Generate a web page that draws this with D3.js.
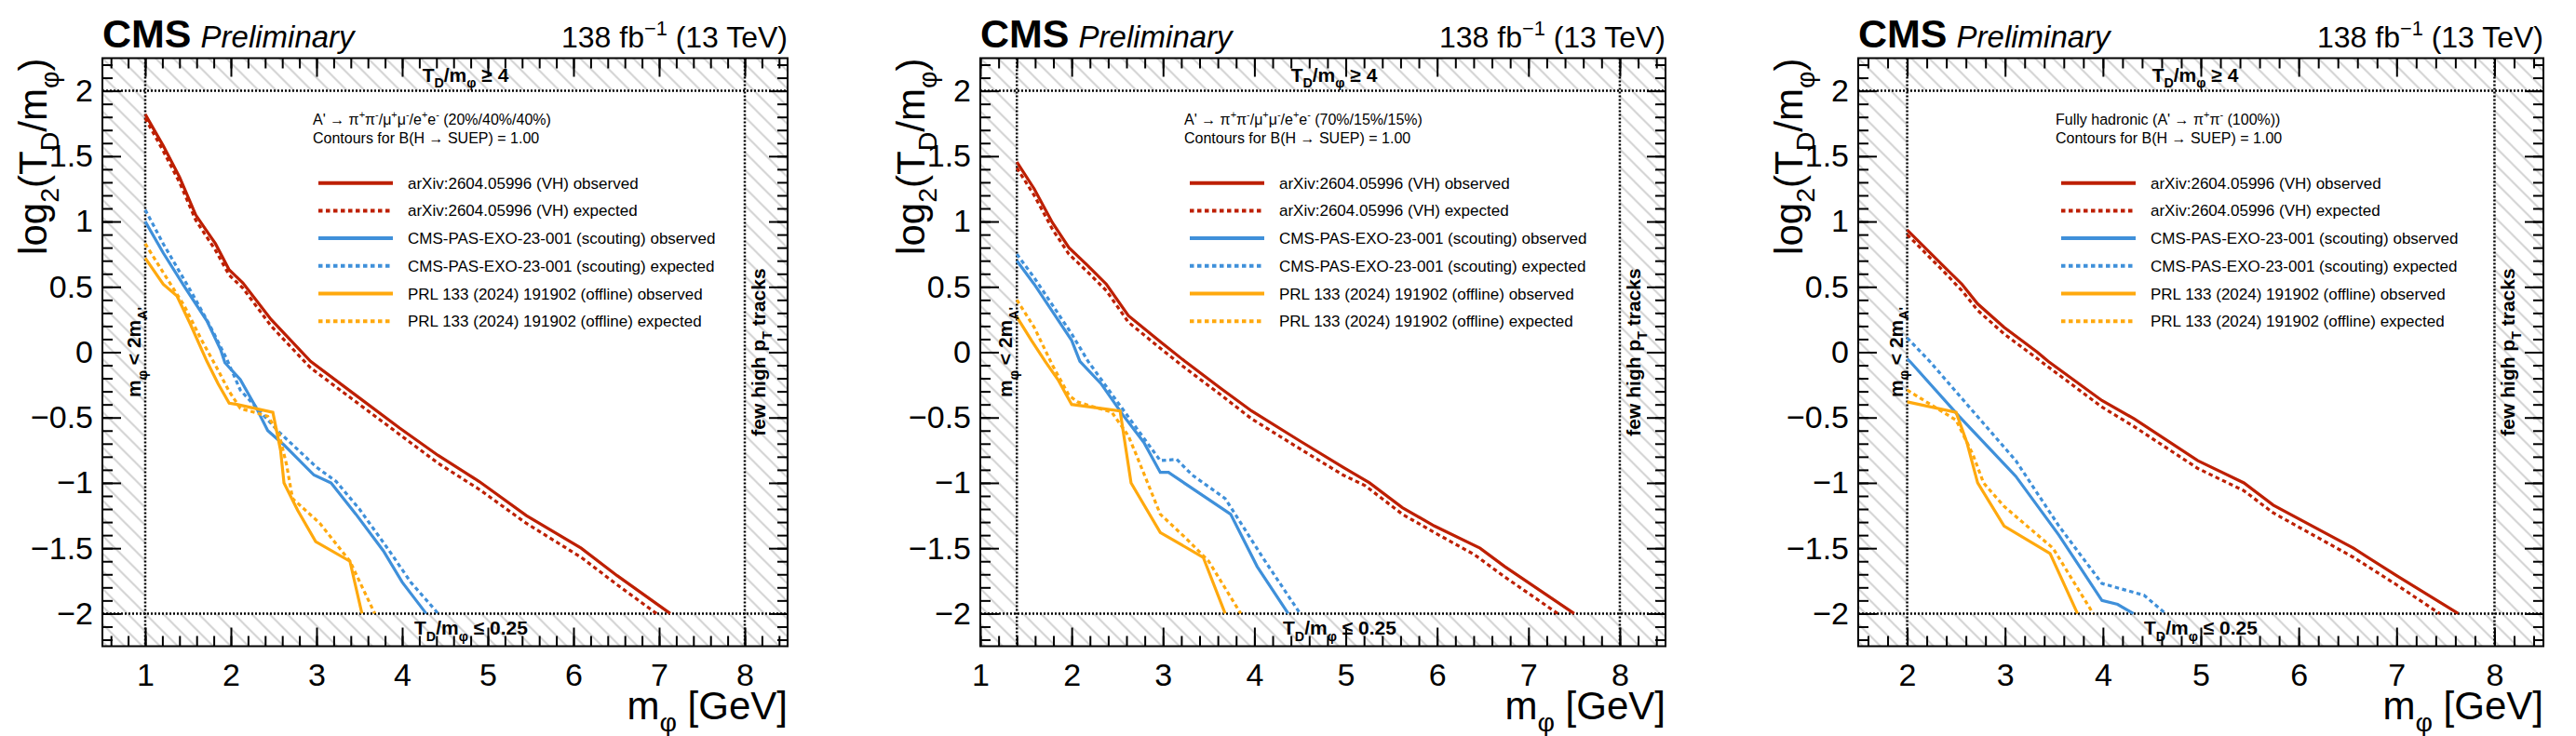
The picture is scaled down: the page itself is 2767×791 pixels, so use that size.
<!DOCTYPE html>
<html>
<head>
<meta charset="utf-8">
<script src="https://cdn.jsdelivr.net/npm/d3@7"></script>
<style>
  body { margin: 0; background: #fff; }
  svg { display: block; }
  text { font-family: "Liberation Sans", Arial, Helvetica, sans-serif; fill: #000; }
</style>
</head>
<body>
<div id="chart"></div>
<script>
// ---- data ----

// x ranges and the m_phi < 2 m_A' cut for each panel
var xDomains = [[0.5, 8.5], [1, 8.5], [1.5, 8.5]];
var xCut = [1, 1.4, 2];
var xHigh = 8;
var yCut = [-2, 2];

// tick values / labels
var xTicks = [[1, 2, 3, 4, 5, 6, 7, 8], [1, 2, 3, 4, 5, 6, 7, 8], [2, 3, 4, 5, 6, 7, 8]];
var yTicks = [-2, -1.5, -1, -0.5, 0, 0.5, 1, 1.5, 2];

var legendLabels = [
  "arXiv:2604.05996 (VH) observed",
  "arXiv:2604.05996 (VH) expected",
  "CMS-PAS-EXO-23-001 (scouting) observed",
  "CMS-PAS-EXO-23-001 (scouting) expected",
  "PRL 133 (2024) 191902 (offline) observed",
  "PRL 133 (2024) 191902 (offline) expected"
];
var seriesColors = ["#bd1f01", "#bd1f01", "#3f90da", "#3f90da", "#ffa90e", "#ffa90e"];
var seriesDashed = [false, true, false, true, false, true];

// panel 1 : A' -> pi pi / mu mu / e e (20/40/40)
var mixVhObs = [[1.0,1.82],[1.21,1.58],[1.40,1.34],[1.59,1.05],[1.82,0.83],[1.98,0.63],[2.14,0.53],[2.47,0.25],[2.93,-0.07],[3.46,-0.33],[3.97,-0.58],[4.42,-0.79],[4.90,-0.99],[5.45,-1.25],[6.09,-1.50],[6.51,-1.71],[7.13,-2.0]];
var mixVhExp = [[1.0,1.79],[1.21,1.54],[1.40,1.30],[1.59,1.01],[1.82,0.78],[1.98,0.59],[2.14,0.49],[2.47,0.20],[2.93,-0.12],[3.46,-0.38],[3.97,-0.63],[4.42,-0.85],[4.90,-1.05],[5.45,-1.31],[6.09,-1.57],[6.51,-1.78],[6.97,-2.0]];
var mixScoutObs = [[1.0,1.0],[1.21,0.76],[1.46,0.50],[1.72,0.24],[1.88,0.02],[1.93,-0.08],[2.11,-0.21],[2.30,-0.43],[2.43,-0.60],[2.62,-0.71],[2.97,-0.94],[3.17,-1.0],[3.46,-1.24],[3.78,-1.52],[4.0,-1.76],[4.28,-2.0]];
var mixScoutExp = [[1.0,1.09],[1.21,0.83],[1.53,0.47],[1.75,0.21],[1.95,-0.05],[2.11,-0.29],[2.56,-0.61],[3.0,-0.88],[3.23,-0.99],[3.5,-1.20],[3.85,-1.52],[4.1,-1.76],[4.42,-2.0]];
var mixOffObs = [[1.0,0.72],[1.21,0.52],[1.37,0.43],[1.53,0.21],[1.72,-0.07],[1.85,-0.24],[1.98,-0.39],[2.07,-0.40],[2.49,-0.46],[2.58,-0.75],[2.62,-1.0],[2.78,-1.21],[2.99,-1.45],[3.39,-1.60],[3.53,-2.0]];
var mixOffExp = [[1.0,0.83],[1.21,0.61],[1.46,0.35],[1.66,0.09],[1.82,-0.10],[1.98,-0.30],[2.11,-0.43],[2.43,-0.49],[2.56,-0.62],[2.65,-0.86],[2.72,-1.12],[3.04,-1.31],[3.39,-1.60],[3.68,-2.0]];

// panel 2 : A' -> pi pi / mu mu / e e (70/15/15)
var pionVhObs = [[1.40,1.455],[1.59,1.25],[1.79,0.99],[1.97,0.80],[2.18,0.66],[2.38,0.52],[2.62,0.28],[2.97,0.08],[3.24,-0.07],[3.62,-0.27],[3.97,-0.45],[4.50,-0.68],[4.97,-0.88],[5.26,-1.0],[5.62,-1.19],[5.97,-1.33],[6.47,-1.50],[6.74,-1.64],[7.50,-2.0]];
var pionVhExp = [[1.40,1.41],[1.59,1.20],[1.79,0.94],[1.97,0.75],[2.18,0.61],[2.38,0.47],[2.62,0.23],[2.97,0.03],[3.24,-0.12],[3.62,-0.32],[3.97,-0.51],[4.50,-0.74],[4.97,-0.94],[5.21,-1.02],[5.62,-1.24],[5.97,-1.38],[6.41,-1.55],[6.74,-1.72],[7.32,-2.0]];
var pionScoutObs = [[1.40,0.70],[1.59,0.52],[1.79,0.31],[2.0,0.09],[2.09,-0.07],[2.32,-0.24],[2.56,-0.48],[2.79,-0.69],[2.97,-0.92],[3.06,-0.92],[3.74,-1.24],[4.03,-1.64],[4.37,-2.0]];
var pionScoutExp = [[1.40,0.75],[1.59,0.57],[1.79,0.36],[2.0,0.14],[2.18,-0.07],[2.5,-0.38],[2.97,-0.83],[3.15,-0.82],[3.32,-0.94],[3.68,-1.12],[3.79,-1.24],[4.09,-1.57],[4.5,-2.0]];
var pionOffObs = [[1.40,0.27],[1.56,0.09],[1.71,-0.07],[1.85,-0.21],[2.0,-0.40],[2.53,-0.45],[2.65,-1.0],[2.97,-1.38],[3.44,-1.57],[3.68,-2.0]];
var pionOffExp = [[1.40,0.40],[1.59,0.19],[1.79,-0.10],[1.97,-0.33],[2.06,-0.38],[2.44,-0.46],[2.62,-0.64],[2.71,-0.79],[2.97,-1.24],[3.26,-1.43],[3.50,-1.60],[3.85,-2.0]];

// panel 3 : fully hadronic
var hadVhObs = [[2.0,0.935],[2.37,0.66],[2.56,0.52],[2.72,0.37],[2.99,0.19],[3.33,0.0],[3.44,-0.07],[3.99,-0.37],[4.32,-0.51],[4.97,-0.83],[5.44,-1.0],[5.74,-1.17],[6.56,-1.50],[7.0,-1.71],[7.63,-2.0]];
var hadVhExp = [[2.0,0.90],[2.37,0.62],[2.56,0.47],[2.72,0.32],[2.99,0.14],[3.33,-0.05],[3.99,-0.42],[4.32,-0.57],[4.97,-0.89],[5.44,-1.06],[5.74,-1.23],[6.56,-1.57],[7.0,-1.78],[7.44,-2.0]];
var hadScoutObs = [[2.0,-0.05],[2.04,-0.08],[2.53,-0.49],[3.11,-0.95],[3.55,-1.40],[3.99,-1.90],[4.15,-1.93],[4.31,-2.0]];
var hadScoutExp = [[2.0,0.11],[2.23,-0.07],[2.67,-0.45],[3.11,-0.83],[3.55,-1.33],[3.99,-1.77],[4.42,-1.86],[4.64,-2.0]];
var hadOffObs = [[2.0,-0.38],[2.50,-0.46],[2.61,-0.69],[2.72,-1.0],[2.99,-1.33],[3.46,-1.54],[3.74,-2.0]];
var hadOffExp = [[2.0,-0.29],[2.50,-0.52],[2.67,-0.78],[2.78,-1.0],[2.99,-1.18],[3.49,-1.50],[3.90,-2.0]];

var panelSeries = [
  [mixVhObs, mixVhExp, mixScoutObs, mixScoutExp, mixOffObs, mixOffExp],
  [pionVhObs, pionVhExp, pionScoutObs, pionScoutExp, pionOffObs, pionOffExp],
  [hadVhObs, hadVhExp, hadScoutObs, hadScoutExp, hadOffObs, hadOffExp]
];

// legend headers (text pieces : [string, "sup"/"sub"/null])
var headers = [
  [["A' \u2192 \u03c0"],["+","sup"],["\u03c0"],["-","sup"],["/\u03bc"],["+","sup"],["\u03bc"],["-","sup"],["/e"],["+","sup"],["e"],["-","sup"],[" (20%/40%/40%)"]],
  [["A' \u2192 \u03c0"],["+","sup"],["\u03c0"],["-","sup"],["/\u03bc"],["+","sup"],["\u03bc"],["-","sup"],["/e"],["+","sup"],["e"],["-","sup"],[" (70%/15%/15%)"]],
  [["Fully hadronic (A' \u2192 \u03c0"],["+","sup"],["\u03c0"],["-","sup"],[" (100%))"]]
];

// ---- layout ----
var svgW = 2767, svgH = 791;
var panelLeft = [110, 1053, 1996];
var W = 736, H = 632, top0 = 62.5;
var legendX = [226, 219, 212];
var bandLabelX = [390, 380, 362];

var svg = d3.select("#chart").append("svg")
    .attr("width", svgW)
    .attr("height", svgH);

svg.append("rect").attr("width", svgW).attr("height", svgH).attr("fill", "#fff");

// hatch pattern (ROOT style 3005 like)
var defs = svg.append("defs");
defs.append("pattern")
    .attr("id", "hatch")
    .attr("patternUnits", "userSpaceOnUse")
    .attr("width", 19)
    .attr("height", 19)
    .append("path")
    .attr("d", "M-2,-2 L21,21 M-2,17 L2,21 M17,-2 L21,2")
    .attr("stroke", "#d2d2d2")
    .attr("stroke-width", 2);

// text with sub/superscripts
function rich(sel, parts, size) {
    var cur = 0;
    parts.forEach(function (p) {
        var shift = p[1] === "sub" ? size * 0.32 : (p[1] === "sup" ? -size * 0.42 : 0);
        var t = sel.append("tspan").attr("dy", shift - cur).text(p[0]);
        if (p[1]) t.style("font-size", (size * 0.68) + "px");
        cur = shift;
    });
    return sel;
}

function drawPanel(k) {
    var x = d3.scaleLinear().domain(xDomains[k]).range([0, W]);
    var y = d3.scaleLinear().domain([-2.25, 2.25]).range([H, 0]);

    var g = svg.append("g").attr("transform", "translate(" + panelLeft[k] + "," + top0 + ")");

    var clipId = "clip" + k;
    g.append("clipPath").attr("id", clipId)
        .append("rect").attr("width", W).attr("height", H);

    // hatched excluded bands
    var bands = g.append("g").attr("clip-path", "url(#" + clipId + ")");
    bands.append("rect").attr("x", 0).attr("y", 0).attr("width", x(xCut[k])).attr("height", H).attr("fill", "url(#hatch)");
    bands.append("rect").attr("x", x(xHigh)).attr("y", 0).attr("width", W - x(xHigh)).attr("height", H).attr("fill", "url(#hatch)");
    bands.append("rect").attr("x", x(xCut[k])).attr("y", 0).attr("width", x(xHigh) - x(xCut[k])).attr("height", y(yCut[1])).attr("fill", "url(#hatch)");
    bands.append("rect").attr("x", x(xCut[k])).attr("y", y(yCut[0])).attr("width", x(xHigh) - x(xCut[k])).attr("height", H - y(yCut[0])).attr("fill", "url(#hatch)");

    // dotted boundaries
    var dots = g.append("g")
        .attr("stroke", "#000")
        .attr("stroke-width", 2.5)
        .attr("stroke-dasharray", "2,2");
    [xCut[k], xHigh].forEach(function (v) {
        dots.append("line").attr("x1", x(v)).attr("x2", x(v)).attr("y1", 0).attr("y2", H);
    });
    yCut.forEach(function (v) {
        dots.append("line").attr("x1", 0).attr("x2", W).attr("y1", y(v)).attr("y2", y(v));
    });

    // contour curves
    var line = d3.line()
        .x(function (d) { return x(d[0]); })
        .y(function (d) { return y(d[1]); });

    var curves = g.append("g").attr("clip-path", "url(#" + clipId + ")");
    panelSeries[k].forEach(function (s, i) {
        curves.append("path")
            .attr("d", line(s))
            .attr("fill", "none")
            .attr("stroke", seriesColors[i])
            .attr("stroke-width", 3.2)
            .attr("stroke-dasharray", seriesDashed[i] ? "4.5,3.5" : null);
    });

    // axes (ticks pointing inside)
    var minorX = d3.range(Math.ceil(xDomains[k][0] / 0.2) * 0.2, xDomains[k][1] + 0.001, 0.2);
    var minorY = d3.range(-2.2, 2.201, 0.1);

    function styleAxis(a) {
        a.select(".domain").remove();
        a.selectAll("line").attr("stroke", "#000").attr("stroke-width", 2);
        a.selectAll("text").style("font-size", "34px").attr("fill", "#000");
    }

    g.append("g").attr("transform", "translate(0," + H + ")")
        .call(d3.axisBottom(x).tickValues(xTicks[k]).tickSize(-20).tickPadding(18).tickFormat(d3.format("d")))
        .call(styleAxis);
    g.append("g").attr("transform", "translate(0," + H + ")")
        .call(d3.axisBottom(x).tickValues(minorX).tickSize(-11).tickFormat(""))
        .call(styleAxis);
    g.append("g")
        .call(d3.axisTop(x).tickValues(xTicks[k]).tickSize(-20).tickFormat(""))
        .call(styleAxis);
    g.append("g")
        .call(d3.axisTop(x).tickValues(minorX).tickSize(-11).tickFormat(""))
        .call(styleAxis);

    g.append("g")
        .call(d3.axisLeft(y).tickValues(yTicks).tickSize(-20).tickPadding(10).tickFormat(d3.format("~g")))
        .call(styleAxis);
    g.append("g")
        .call(d3.axisLeft(y).tickValues(minorY).tickSize(-11).tickFormat(""))
        .call(styleAxis);
    g.append("g").attr("transform", "translate(" + W + ",0)")
        .call(d3.axisRight(y).tickValues(yTicks).tickSize(-20).tickFormat(""))
        .call(styleAxis);
    g.append("g").attr("transform", "translate(" + W + ",0)")
        .call(d3.axisRight(y).tickValues(minorY).tickSize(-11).tickFormat(""))
        .call(styleAxis);

    // frame
    g.append("rect")
        .attr("width", W).attr("height", H)
        .attr("fill", "none")
        .attr("stroke", "#000")
        .attr("stroke-width", 2);

    // band labels
    rich(g.append("text")
        .attr("x", bandLabelX[k]).attr("y", y(2) - 10)
        .attr("text-anchor", "middle")
        .style("font-size", "21px").style("font-weight", "bold"),
        [["T"], ["D", "sub"], ["/m"], ["\u03c6", "sub"], [" \u2265 4"]], 21);
    rich(g.append("text")
        .attr("x", bandLabelX[k] + 6).attr("y", y(-2) + 23)
        .attr("text-anchor", "middle")
        .style("font-size", "21px").style("font-weight", "bold"),
        [["T"], ["D", "sub"], ["/m"], ["\u03c6", "sub"], [" \u2264 0.25"]], 21);
    rich(g.append("text")
        .attr("transform", "translate(" + (x(xCut[k]) - 5) + "," + (H / 2) + ") rotate(-90)")
        .attr("text-anchor", "middle")
        .style("font-size", "21px").style("font-weight", "bold"),
        [["m"], ["\u03c6", "sub"], [" < 2m"], ["A'", "sub"]], 21);
    rich(g.append("text")
        .attr("transform", "translate(" + (x(xHigh) + 22) + "," + (H / 2) + ") rotate(-90)")
        .attr("text-anchor", "middle")
        .style("font-size", "21px").style("font-weight", "bold"),
        [["few high p"], ["T", "sub"], [" tracks"]], 21);

    // legend
    var lg = g.append("g").attr("transform", "translate(" + legendX[k] + ",0)");
    rich(lg.append("text").attr("x", 0).attr("y", 128 - top0 + 6).style("font-size", "16px"), headers[k], 16);
    lg.append("text").attr("x", 0).attr("y", 148 - top0 + 6).style("font-size", "16px")
        .text("Contours for B(H \u2192 SUEP) = 1.00");

    legendLabels.forEach(function (lab, i) {
        var ly = 196.7 - top0 + i * 29.7;
        lg.append("line")
            .attr("x1", 6).attr("x2", 86)
            .attr("y1", ly).attr("y2", ly)
            .attr("stroke", seriesColors[i])
            .attr("stroke-width", 4)
            .attr("stroke-dasharray", seriesDashed[i] ? "4.5,3.5" : null);
        lg.append("text")
            .attr("x", 102).attr("y", ly + 6)
            .style("font-size", "17px")
            .text(lab);
    });

    // axis titles
    rich(g.append("text")
        .attr("x", W).attr("y", 773 - top0)
        .attr("text-anchor", "end")
        .style("font-size", "42px"),
        [["m"], ["\u03c6", "sub"], [" [GeV]"]], 42);
    rich(g.append("text")
        .attr("transform", "translate(-60,0) rotate(-90)")
        .attr("text-anchor", "end")
        .style("font-size", "42px"),
        [["log"], ["2", "sub"], ["(T"], ["D", "sub"], ["/m"], ["\u03c6", "sub"], [")"]], 42);

    // CMS label and luminosity
    var cms = g.append("text").attr("x", 0).attr("y", 51 - top0);
    cms.append("tspan").style("font-size", "43px").style("font-weight", "bold").text("CMS");
    cms.append("tspan").attr("dx", 10).style("font-size", "33px").style("font-style", "italic").text("Preliminary");

    rich(g.append("text")
        .attr("x", W).attr("y", 51 - top0)
        .attr("text-anchor", "end")
        .style("font-size", "32px"),
        [["138 fb"], ["\u22121", "sup"], [" (13 TeV)"]], 32);
}

for (var k = 0; k < 3; k++) {
    drawPanel(k);
}
</script>
</body>
</html>
